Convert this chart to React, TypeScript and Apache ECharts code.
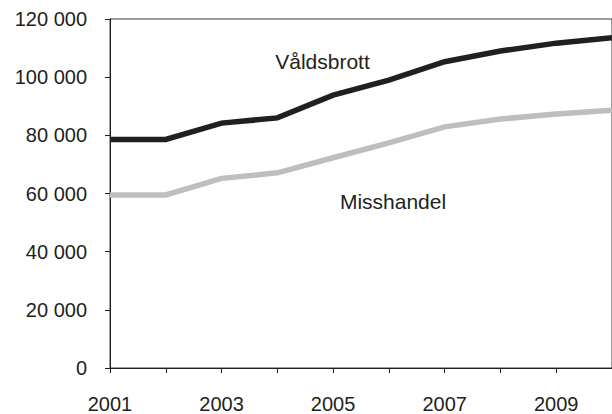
import React, { useEffect, useRef } from "react";
import * as echarts from "echarts";

const years = ["2001", "2002", "2003", "2004", "2005", "2006", "2007", "2008", "2009", "2010"];
const valdsbrott = [78600, 78600, 84200, 86000, 93800, 99000, 105300, 109000, 111700, 113600];
const misshandel = [59500, 59500, 65200, 67100, 72300, 77400, 82900, 85600, 87300, 88600];
const yTicks = [0, 20000, 40000, 60000, 80000, 100000, 120000];

const fmt = (v: number) => (v === 0 ? "0" : String(v).replace(/\B(?=(\d{3})+(?!\d))/g, " "));

export default function App() {
  const ref = useRef<HTMLDivElement>(null);
  useEffect(() => {
    document.body.style.margin = "0";
    if (!ref.current) return;
    const chart = echarts.init(ref.current, undefined, { renderer: "svg" });
    const font = "'Liberation Sans', Arial, sans-serif";
    const ink = "#231f20";
    chart.setOption({
      animation: false,
      backgroundColor: "#ffffff",
      grid: {
        left: 110,
        top: 19,
        width: 509.4,
        height: 350,
        show: true,
        borderColor: "#3a3a3a",
        borderWidth: 1,
        backgroundColor: "transparent",
      },
      xAxis: {
        type: "category",
        data: years,
        boundaryGap: false,
        axisLine: { lineStyle: { color: ink, width: 1 } },
        axisTick: { show: true, interval: 0, length: 5, lineStyle: { color: ink } },
        axisLabel: { interval: 1, margin: 26, fontSize: 20, color: ink, fontFamily: font },
        splitLine: { show: false },
      },
      yAxis: {
        type: "value",
        min: yTicks[0],
        max: yTicks[yTicks.length - 1],
        interval: 20000,
        axisLine: { show: true, lineStyle: { color: ink, width: 1 } },
        axisTick: { show: true, length: 5, lineStyle: { color: ink } },
        axisLabel: { margin: 23, fontSize: 20, color: ink, fontFamily: font, formatter: (v: number) => fmt(v) },
        splitLine: { show: false },
      },
      series: [
        {
          name: "Misshandel",
          type: "line",
          data: misshandel,
          symbol: "none",
          lineStyle: { color: "#bdbec0", width: 5.5, join: "miter" },
          z: 2,
        },
        {
          name: "Våldsbrott",
          type: "line",
          data: valdsbrott,
          symbol: "none",
          lineStyle: { color: ink, width: 5.5, join: "miter" },
          z: 3,
        },
      ],
      graphic: [
        {
          type: "text",
          x: 322.5,
          y: 61,
          style: { text: "Våldsbrott", fontSize: 21, fontFamily: font, fill: ink, textAlign: "center", textVerticalAlign: "middle" },
        },
        {
          type: "text",
          x: 393,
          y: 201,
          style: { text: "Misshandel", fontSize: 21, fontFamily: font, fill: ink, textAlign: "center", textVerticalAlign: "middle" },
        },
      ],
    });
    return () => chart.dispose();
  }, []);
  return <div ref={ref} style={{ width: 612, height: 414 }} />;
}
